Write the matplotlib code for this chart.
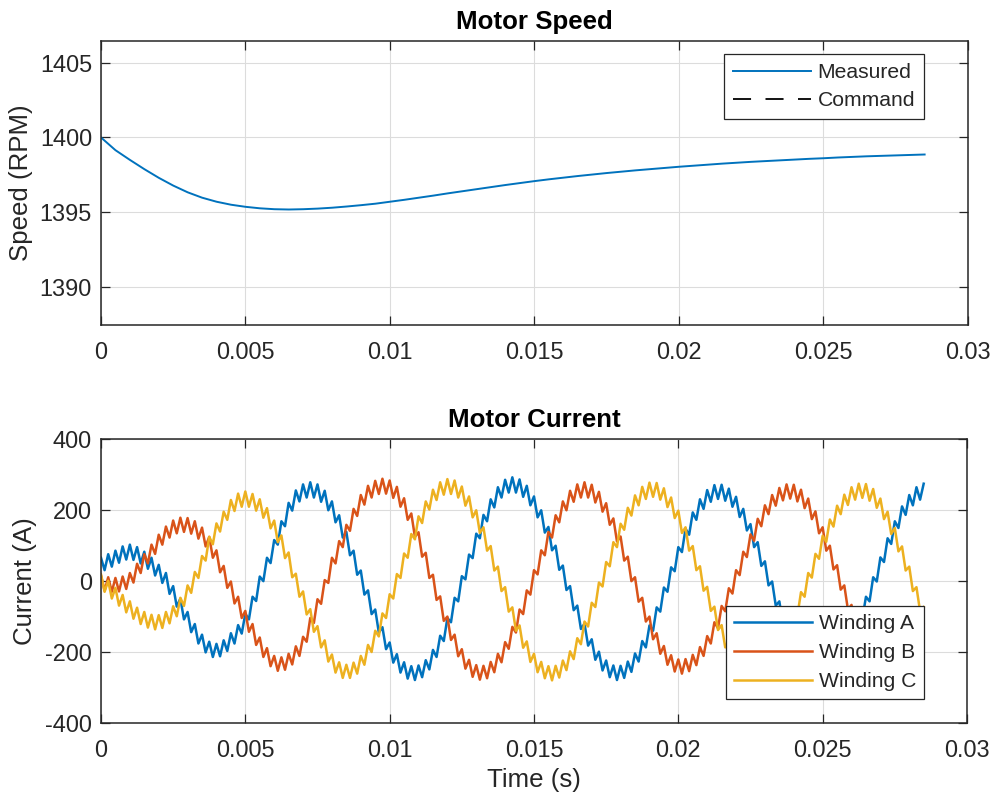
import numpy as np
import matplotlib
matplotlib.use("Agg")
import matplotlib.pyplot as plt

# ---------------- data ----------------
speed_dt = 0.0005  # s between speed samples
speed_measured = [
    1400.0, 1399.15, 1398.5, 1397.88, 1397.3, 1396.78, 1396.33, 1395.97, 1395.7, 1395.5,
    1395.36, 1395.26, 1395.2, 1395.18, 1395.2, 1395.24, 1395.3, 1395.38, 1395.47, 1395.57,
    1395.7, 1395.83, 1395.97, 1396.11, 1396.26, 1396.4, 1396.54, 1396.68, 1396.82, 1396.95,
    1397.08, 1397.2, 1397.31, 1397.42, 1397.52, 1397.62, 1397.71, 1397.8, 1397.88, 1397.96,
    1398.04, 1398.11, 1398.18, 1398.25, 1398.31, 1398.37, 1398.42, 1398.47, 1398.52, 1398.57,
    1398.61, 1398.66, 1398.7, 1398.74, 1398.77, 1398.8, 1398.83, 1398.86,
]
command_time = []
command_speed = []

current_dt = 0.000125  # s between current samples
winding_a = [
    65, 30, 75, 40, 85, 51, 97, 60, 102, 59, 95, 49, 82, 34, 65, 15, 45, -6, 22, -37,
    -15, -73, -50, -109, -88, -145, -122, -177, -152, -202, -172, -215, -178, -213, -168, -198, -148, -177, -125, -149,
    -93, -109, -45, -57, 12, -1, 65, 50, 115, 102, 168, 154, 220, 198, 255, 224, 272, 235, 278, 235,
    272, 223, 254, 199, 224, 165, 185, 122, 138, 72, 85, 17, 29, -39, -27, -94, -81, -146, -131, -193,
    -174, -231, -207, -259, -230, -276, -241, -280, -239, -272, -224, -250, -195, -215, -155, -170, -105, -117, -48, -58,
    13, 4, 74, 64, 133, 120, 186, 168, 230, 207, 264, 235, 285, 249, 292, 249, 286, 237, 268, 213,
    238, 179, 199, 136, 152, 86, 99, 31, 43, -26, -15, -83, -70, -136, -121, -183, -165, -223, -200, -253,
    -225, -272, -239, -280, -240, -274, -228, -257, -205, -228, -170, -188, -126, -141, -75, -87, -19, -31, 38, 27,
    95, 81, 147, 130, 193, 172, 230, 203, 256, 223, 270, 231, 271, 226, 260, 209, 237, 180, 203, 142,
    160, 95, 109, 42, 55, -13, -2, -70, -58, -124, -110, -173, -156, -215, -194, -248, -222, -270, -238, -280,
    -242, -278, -233, -263, -212, -236, -180, -199, -138, -154, -89, -107, -45, -58, 10, -2, 66, 53, 120, 104,
    168, 149, 210, 186, 242, 213, 264, 229, 274,
]
winding_b = [
    15, -28, 10, -31, 8, -30, 12, -23, 22, -5, 48, 22, 75, 49, 102, 76, 130, 102, 153, 122,
    170, 134, 178, 138, 177, 133, 168, 119, 150, 97, 124, 65, 86, 24, 42, -20, -2, -64, -45, -105,
    -85, -144, -122, -181, -160, -215, -190, -241, -212, -254, -216, -251, -206, -236, -185, -212, -158, -172, -105, -119,
    -52, -65, 2, -6, 65, 49, 112, 95, 158, 141, 203, 183, 242, 215, 268, 235, 282, 245, 288, 246,
    283, 234, 265, 209, 233, 172, 190, 124, 137, 68, 79, 8, 17, -54, -44, -113, -101, -167, -152, -213,
    -193, -248, -223, -271, -238, -279, -240, -275, -229, -258, -206, -230, -173, -192, -130, -146, -81, -94, -27, -39,
    30, 18, 86, 72, 138, 122, 185, 165, 224, 199, 254, 223, 272, 235, 278, 235, 271, 221, 251, 195,
    219, 158, 176, 111, 125, 57, 68, -1, 10, -59, -48, -115, -101, -165, -148, -206, -184, -237, -210, -256,
    -222, -262, -221, -255, -209, -238, -187, -212, -156, -177, -117, -134, -71, -86, -21, -36, 30, 16, 82, 67,
    131, 113, 175, 154, 213, 188, 242, 212, 262, 227, 272, 232, 271, 224, 257, 205, 232, 174, 196, 134,
    151, 85, 99, 32, 44, -25, -13, -81, -68, -134, -120, -183, -165, -223, -201, -254, -226, -273, -240, -281,
    -241, -275, -229, -257, -205, -227, -169, -187, -124,
]
winding_c = [
    18, -31, 0, -50, -20, -70, -40, -89, -58, -107, -76, -122, -88, -132, -96, -137, -97, -133, -88, -120,
    -72, -100, -48, -71, -13, -34, 25, 8, 70, 57, 124, 103, 162, 139, 195, 172, 228, 197, 246, 209,
    252, 209, 245, 198, 230, 178, 205, 148, 170, 109, 128, 64, 80, 10, 20, -45, -30, -95, -80, -144,
    -128, -188, -168, -228, -208, -259, -230, -274, -237, -274, -231, -262, -212, -237, -181, -201, -141, -157, -92, -105,
    -38, -50, 19, 8, 77, 65, 132, 117, 182, 163, 224, 201, 257, 228, 278, 243, 287, 245, 283, 235,
    266, 212, 238, 179, 199, 135, 151, 85, 98, 29, 40, -29, -18, -87, -75, -141, -126, -189, -171, -229,
    -206, -258, -229, -275, -241, -281, -240, -273, -225, -252, -199, -221, -162, -179, -115, -129, -62, -74, -5, -16,
    53, 41, 109, 95, 161, 144, 206, 184, 241, 213, 265, 231, 277, 237, 276, 229, 261, 208, 235, 177,
    198, 135, 151, 85, 98, 30, 41, -28, -17, -85, -73, -139, -125, -188, -170, -228, -205, -257, -229, -275,
    -241, -281, -240, -274, -228, -257, -205, -229, -172, -192, -131, -148, -84, -98, -32, -45, 22, 9, 76, 62,
    127, 110, 173, 153, 212, 188, 243, 214, 264, 229, 274, 234, 273, 226, 259, 206, 232, 174, 195, 132,
    149, 83, 97, 29, 40, -29, -18, -86, -74,
]

x_ticks = [0, 0.005, 0.01, 0.015, 0.02, 0.025, 0.03]
x_tick_labels = ["0", "0.005", "0.01", "0.015", "0.02", "0.025", "0.03"]
speed_ticks = [1390, 1395, 1400, 1405]
current_ticks = [-400, -200, 0, 200, 400]

# ---------------- style ----------------
plt.rcParams['font.family'] = ['Liberation Sans', 'DejaVu Sans']
TXT = '#262626'
TICK_FS = 16.9
LABEL_FS = 18.6
LEG_FS = 15.2

fig = plt.figure(figsize=(9.93, 7.99), dpi=100)
ax1 = fig.add_axes([0.1017, 0.5932, 0.8731, 0.3554])
ax2 = fig.add_axes([0.1017, 0.0957, 0.8721, 0.3548])


def style_axes(ax):
    ax.set_axisbelow(True)
    ax.grid(True, color='#dcdcdc', linewidth=0.8)
    for sp in ax.spines.values():
        sp.set_color(TXT)
        sp.set_linewidth(1.1)
    ax.tick_params(direction='in', length=6.2, width=0.9, colors=TXT,
                   top=True, right=True, labelsize=TICK_FS)
    ax.tick_params(axis='x', pad=11.7)
    ax.tick_params(axis='y', pad=6.5)
    ax.set_xlim(0, 0.03)
    ax.set_xticks(x_ticks)
    ax.set_xticklabels(x_tick_labels)


# ---- top: speed ----
style_axes(ax1)
speed_t = np.arange(len(speed_measured)) * speed_dt
ax1.plot(speed_t, speed_measured, color='#0072BD', lw=1.4, label='Measured')
ax1.plot(command_time, command_speed, color='black', lw=1.3,
         linestyle=(0, (10, 8)), label='Command')
ax1.set_ylim(1387.45, 1406.45)
ax1.set_yticks(speed_ticks)
ax1.set_yticklabels([str(v) for v in speed_ticks])
ax1.set_ylabel('Speed (RPM)', fontsize=LABEL_FS, color=TXT)
ax1.yaxis.set_label_coords(-0.0784, 0.5)
ax1.set_title('Motor Speed', fontsize=LABEL_FS, fontweight='bold', color='black', pad=8.5)
leg1 = ax1.legend(loc='upper right', bbox_to_anchor=(0.9493, 0.9542), borderaxespad=0,
                  fontsize=LEG_FS, handlelength=3.68, handletextpad=0.33,
                  labelspacing=0.44, borderpad=0.42, fancybox=False,
                  framealpha=1, edgecolor=TXT)
leg1.get_frame().set_linewidth(0.9)
for t in leg1.get_texts():
    t.set_color(TXT)

# ---- bottom: currents ----
style_axes(ax2)
t_cur = np.arange(len(winding_a)) * current_dt
ax2.plot(t_cur, winding_a, color='#0072BD', lw=1.8, label='Winding A')
ax2.plot(t_cur, winding_b, color='#D95319', lw=1.8, label='Winding B')
ax2.plot(t_cur, winding_c, color='#EDB120', lw=1.8, label='Winding C')
ax2.set_ylim(-400, 400)
ax2.set_yticks(current_ticks)
ax2.set_yticklabels([str(v) for v in current_ticks])
ax2.set_ylabel('Current (A)', fontsize=LABEL_FS, color=TXT)
ax2.yaxis.set_label_coords(-0.0739, 0.5)
ax2.set_xlabel('Time (s)', fontsize=LABEL_FS, color=TXT)
ax2.xaxis.set_label_coords(0.5, -0.161)
ax2.set_title('Motor Current', fontsize=LABEL_FS, fontweight='bold', color='black', pad=8.5)
leg2 = ax2.legend(loc='lower right', bbox_to_anchor=(0.9503, 0.0818), borderaxespad=0,
                  fontsize=LEG_FS, handlelength=3.68, handletextpad=0.33,
                  labelspacing=0.47, borderpad=0.38, fancybox=False,
                  framealpha=1, edgecolor=TXT)
leg2.get_frame().set_linewidth(0.9)
for t in leg2.get_texts():
    t.set_color(TXT)

fig.savefig('out.png', dpi=100)
